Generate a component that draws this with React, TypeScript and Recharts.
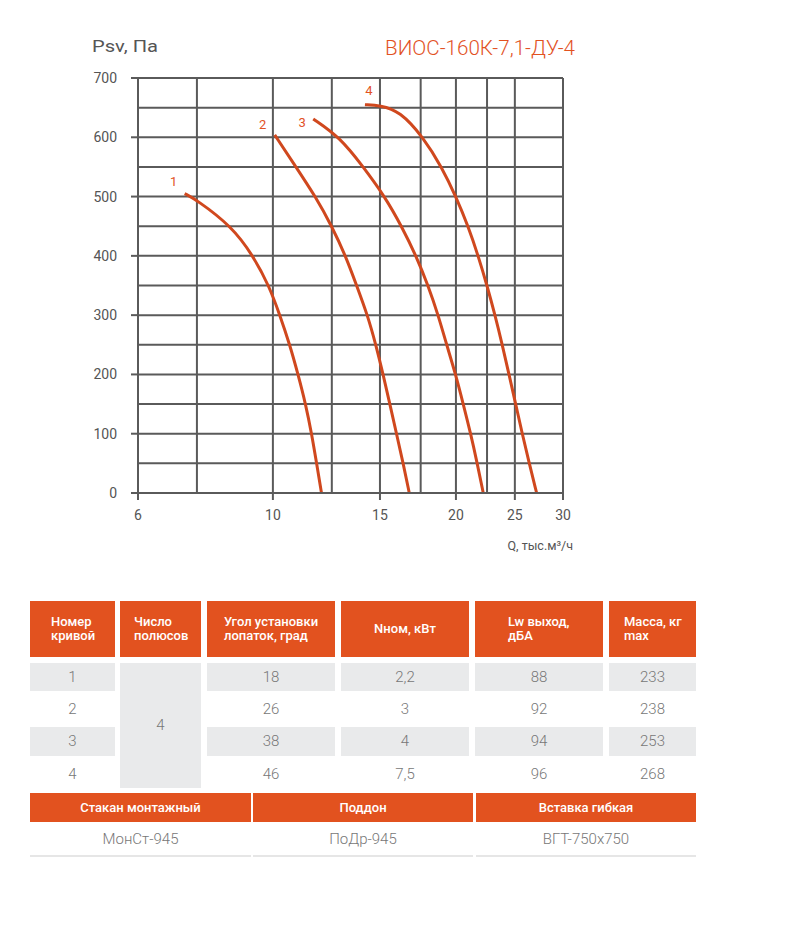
import React from "react";
import { LineChart, Line, XAxis, YAxis, CartesianGrid } from "recharts";

// flow Q (тыс.м³/ч) and pressure Psv (Па)
const curve1Q = [7.16, 7.5, 8.55, 9.28, 9.85, 10.27, 10.66, 11.0, 11.32, 11.58, 11.8, 12.02];
const curve1P = [505, 494, 450, 400, 350, 300, 250, 200, 150, 100, 50, 0];
const curve2Q = [10.07, 10.91, 11.75, 12.5, 13.17, 13.73, 14.31, 14.77, 15.18, 15.57, 15.97, 16.38, 16.76];
const curve2P = [604, 550, 500, 450, 400, 350, 300, 250, 200, 150, 100, 50, 0];
const curve3Q = [11.65, 12.89, 14.08, 15.28, 16.28, 17.2, 18.0, 18.7, 19.31, 19.98, 20.56, 21.15, 21.68, 22.18];
const curve3P = [631, 600, 550, 500, 450, 400, 350, 300, 250, 200, 150, 100, 50, 0];
const curve4Q = [14.17, 15, 16.18, 17.67, 18.95, 20, 20.95, 21.76, 22.5, 23.19, 23.84, 24.45, 25.08, 25.71, 26.4, 27.15];
const curve4P = [655, 654, 644, 600, 550, 500, 450, 400, 350, 300, 250, 200, 150, 100, 50, 0];

const xTicks = [6, 10, 15, 20, 25, 30];
const xGrid = [6, 7.5, 10, 12.5, 15, 17.5, 20, 22.5, 25, 27.5, 30];
const yTicks = [0, 100, 200, 300, 400, 500, 600, 700];
const yGrid = [0, 50, 100, 150, 200, 250, 300, 350, 400, 450, 500, 550, 600, 650, 700];

const headers = ["Номер\nкривой", "Число\nполюсов", "Угол установки\nлопаток, град", "Nном, кВт", "Lw выход,\nдБА", "Масса, кг\nmax"];
const curveNums = ["1", "2", "3", "4"];
const poles = "4";
const angles = ["18", "26", "38", "46"];
const powers = ["2,2", "3", "4", "7,5"];
const noise = ["88", "92", "94", "96"];
const masses = ["233", "238", "253", "268"];
const accHeaders = ["Стакан монтажный", "Поддон", "Вставка гибкая"];
const accValues = ["МонСт-945", "ПоДр-945", "ВГТ-750x750"];

const toPoints = (q: number[], p: number[]) => q.map((v, i) => ({ q: v, p: p[i] }));

const series = [
  { name: "1", data: toPoints(curve1Q, curve1P), dx: -11, dy: -12 },
  { name: "2", data: toPoints(curve2Q, curve2P), dx: -12, dy: -10 },
  { name: "3", data: toPoints(curve3Q, curve3P), dx: -11, dy: 4 },
  { name: "4", data: toPoints(curve4Q, curve4P), dx: 4, dy: -14 },
];

const ORANGE = "#e2521f";
const CURVE = "#d0481e";
const GRID = "#5a5a5a";
const CELL_GRAY = "#e9eaeb";
const TEXT_GRAY = "#777";
const FONT = "Roboto, 'Noto Sans', sans-serif";

const cols = [
  { left: 30, width: 85, pad: 21, align: "left" },
  { left: 120, width: 81, pad: 14, align: "left" },
  { left: 207, width: 128, pad: 17, align: "left" },
  { left: 341, width: 128, pad: 0, align: "center" },
  { left: 475, width: 128, pad: 33, align: "left" },
  { left: 609, width: 87, pad: 15, align: "left" },
];
const accCols = [
  { left: 30, width: 221 },
  { left: 253, width: 220 },
  { left: 476, width: 220 },
];
const rowTop = 662.7;
const rowPitch = 32.3;
const rowH = 28.3;

const makeLabel = (name: string, dx: number, dy: number) => (props: any) => {
  if (props.index !== 0) return null;
  return (
    <text
      x={props.x + dx}
      y={props.y + dy}
      textAnchor="middle"
      dominantBaseline="central"
      fill={ORANGE}
      fontSize={13}
      fontFamily={FONT}
    >
      {name}
    </text>
  );
};

function Chart() {
  return (
    <LineChart width={807} height={560} margin={{ top: 78, right: 244, bottom: 27, left: 0 }}>
      <CartesianGrid
        stroke={GRID}
        strokeWidth={2}
        verticalValues={xGrid}
        horizontalValues={yGrid}
      />
      <XAxis
        dataKey="q"
        type="number"
        scale="log"
        domain={[6, 30]}
        ticks={xTicks}
        allowDataOverflow
        height={40}
        tickSize={7}
        tickMargin={10}
        axisLine={{ stroke: GRID, strokeWidth: 2 }}
        tickLine={{ stroke: GRID, strokeWidth: 2 }}
        tick={{ fill: "#555", fontSize: 14, fontFamily: FONT }}
      />
      <YAxis
        dataKey="p"
        type="number"
        domain={[0, 700]}
        ticks={yTicks}
        width={138}
        tickSize={7}
        tickMargin={14}
        axisLine={{ stroke: GRID, strokeWidth: 2 }}
        tickLine={{ stroke: GRID, strokeWidth: 2 }}
        tick={{ fill: "#555", fontSize: 14, fontFamily: FONT }}
      />
      {series.map((s) => (
        <Line
          key={s.name}
          data={s.data}
          dataKey="p"
          type="basis"
          stroke={CURVE}
          strokeWidth={3}
          dot={false}
          activeDot={false}
          isAnimationActive={false}
          label={makeLabel(s.name, s.dx, s.dy)}
        />
      ))}
    </LineChart>
  );
}

const abs = (left: number, top: number, width: number, height: number): React.CSSProperties => ({
  position: "absolute",
  left,
  top,
  width,
  height,
  boxSizing: "border-box",
});

export default function App() {
  const rowVals = [curveNums, null, angles, powers, noise, masses];
  return (
    <div style={{ position: "absolute", left: 0, top: 0, width: 807, height: 938, background: "#fff", fontFamily: FONT }}>
      <div style={{ position: "absolute", left: 0, top: 0 }}>
        <Chart />
      </div>
      <svg style={{ position: "absolute", left: 0, top: 0 }} width={807} height={560}>
        <text x={92} y={52} fontSize={16} fill="#555" fontWeight={400} fontFamily={FONT} textLength={66} lengthAdjust="spacingAndGlyphs">Psv, Па</text>
        <text x={385} y={55} fontSize={21} fill={ORANGE} fontWeight={300} fontFamily={FONT} textLength={190} lengthAdjust="spacingAndGlyphs">
          ВИОС-160К-7,1-ДУ-4
        </text>
        <text x={573} y={550} fontSize={12.5} fill="#555" textAnchor="end" fontFamily={FONT}>Q, тыс.м³/ч</text>
      </svg>

      {/* header row */}
      {cols.map((c, i) => (
        <div
          key={"h" + i}
          style={{
            ...abs(c.left, 601, c.width, 56),
            background: ORANGE,
            color: "#fff",
            fontSize: 13,
            fontWeight: 500,
            lineHeight: "14px",
            whiteSpace: "pre-line",
            display: "flex",
            alignItems: "center",
            justifyContent: c.align === "center" ? "center" : "flex-start",
            paddingLeft: c.pad,
          }}
        >
          {headers[i]}
        </div>
      ))}

      {/* merged poles cell */}
      <div
        style={{
          ...abs(cols[1].left, rowTop, cols[1].width, 125),
          background: CELL_GRAY,
          color: TEXT_GRAY,
          fontSize: 15,
          fontWeight: 300,
          display: "flex",
          alignItems: "center",
          justifyContent: "center",
        }}
      >
        {poles}
      </div>

      {curveNums.map((_, r) =>
        cols.map((c, i) => {
          const vals = rowVals[i];
          if (!vals) return null;
          return (
            <div
              key={"c" + r + "-" + i}
              style={{
                ...abs(c.left, rowTop + r * rowPitch, c.width, rowH),
                background: r % 2 === 0 ? CELL_GRAY : "transparent",
                color: TEXT_GRAY,
                fontSize: 15,
                fontWeight: 300,
                display: "flex",
                alignItems: "center",
                justifyContent: "center",
              }}
            >
              {vals[r]}
            </div>
          );
        })
      )}

      {/* accessories */}
      {accCols.map((c, i) => (
        <React.Fragment key={"a" + i}>
          <div
            style={{
              ...abs(c.left, 793, c.width, 29),
              background: ORANGE,
              color: "#fff",
              fontSize: 13,
              fontWeight: 500,
              display: "flex",
              alignItems: "center",
              justifyContent: "center",
            }}
          >
            {accHeaders[i]}
          </div>
          <div
            style={{
              ...abs(c.left, 826, c.width, 26),
              color: TEXT_GRAY,
              fontSize: 15,
              fontWeight: 300,
              display: "flex",
              alignItems: "center",
              justifyContent: "center",
            }}
          >
            {accValues[i]}
          </div>
          <div style={{ ...abs(c.left, 855, c.width, 2), background: "#e6e6e6" }} />
        </React.Fragment>
      ))}
    </div>
  );
}
